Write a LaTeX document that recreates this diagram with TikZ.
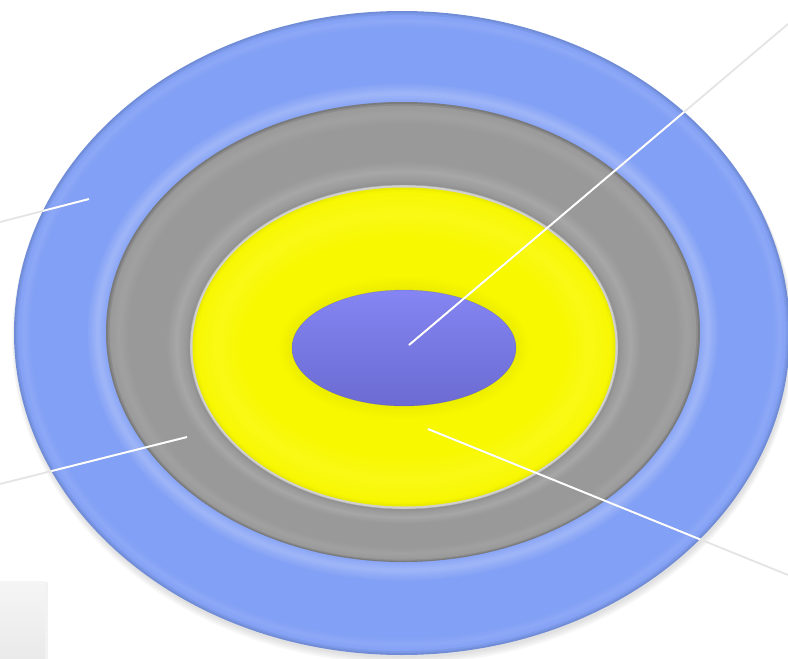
\documentclass[tikz,border=0pt]{standalone}
\definecolor{ringblue}{HTML}{82A0F5}
\definecolor{ringgray}{HTML}{999999}
\definecolor{ringyellow}{HTML}{F8F800}
\definecolor{rimgray}{HTML}{D0D0D0}
\definecolor{coretop}{HTML}{8585F3}
\definecolor{corebot}{HTML}{6B6BD2}
\definecolor{leader}{HTML}{E4E4E4}
\definecolor{boxtop}{HTML}{F5F5F5}
\definecolor{boxbot}{HTML}{EAEAEA}

\newcommand\tubeN{45}
\newcommand\setA[4]{\def\Acx{#1}\def\Acy{#2}\def\Arx{#3}\def\Ary{#4}}
\newcommand\setB[4]{\def\Bcx{#1}\def\Bcy{#2}\def\Brx{#3}\def\Bry{#4}}
\newcommand\drawtube[2]{%
  \foreach \i in {0,...,\tubeN}{%
    \pgfmathsetmacro\tpar{\i/\tubeN}%
    \pgfmathsetmacro\cx{\Acx+(\Bcx-\Acx)*\tpar}%
    \pgfmathsetmacro\cy{\Acy+(\Bcy-\Acy)*\tpar}%
    \pgfmathsetmacro\rx{\Arx+(\Brx-\Arx)*\tpar}%
    \pgfmathsetmacro\ry{\Ary+(\Bry-\Ary)*\tpar}%
    \pgfmathsetmacro\lum{#2}%
    \pgfmathsetmacro\pw{100-max(0,\lum)}%
    \pgfmathsetmacro\pb{100-max(0,-\lum)}%
    \colorlet{tubetmp}{#1!\pw!white}%
    \colorlet{tubetmp}{tubetmp!\pb!black}%
    \fill[tubetmp] (\cx,\cy) ellipse [x radius=\rx, y radius=\ry];
  }}

\tikzset{
  leaderout/.style={draw=leader, line width=1.8pt},
  leaderin/.style={draw=white, line width=1.7pt},
}

\begin{document}
\begin{tikzpicture}[x=1pt,y=-1pt]
\useasboundingbox (0,0) rectangle (788,659);

% soft shadow of the disc
\foreach \k in {1,2,3,4}{
  \fill[black, opacity=0.03] (403,335+\k) ellipse [x radius=387+\k, y radius=321+\k];
}

% outer blue ring
\setA{402}{333}{388}{322}
\setB{403}{332}{297}{230}
\drawtube{ringblue}{-12*max(0,1-\tpar/0.04)+8*max(0,1-abs(\tpar-0.1)/0.08)+24*max(0,1-abs(\tpar-0.9)/0.12)-10*max(0,(\tpar-0.975)/0.025)}

% gray ring
\setA{403}{332}{297}{230}
\setB{404}{347}{215}{163}
\drawtube{ringgray}{-20*max(0,1-\tpar/0.04)+8*max(0,1-abs(\tpar-0.15)/0.12)+14*max(0,1-abs(\tpar-0.84)/0.12)-6*max(0,(\tpar-0.95)/0.05)}

% light rim around the yellow ring
\fill[rimgray, draw=black!35, line width=0.4pt] (404,347) ellipse [x radius=214, y radius=162];

% yellow ring
\setA{404}{347}{211.5}{159.5}
\setB{404}{348}{112}{58}
\drawtube{ringyellow}{-5*max(0,1-\tpar/0.04)+9*max(0,1-abs(\tpar-0.25)/0.25)-5*max(0,(\tpar-0.85)/0.15)}

% core
\shade[top color=coretop, bottom color=corebot] (404,348) ellipse [x radius=112, y radius=58];
\draw[corebot!80!black, line width=0.4pt, opacity=0.4] (404,348) ellipse [x radius=112, y radius=58];

% leader lines
\coordinate (p1) at (409,345);  \coordinate (q1) at (788,24);
\coordinate (p2) at (89,199);   \coordinate (q2) at (0,222);
\coordinate (p3) at (187,437);  \coordinate (q3) at (0,484);
\coordinate (p4) at (428,429);  \coordinate (q4) at (788,575);

\draw[leaderout] (p1) -- (q1);
\draw[leaderout] (p2) -- (q2);
\draw[leaderout] (p3) -- (q3);
\draw[leaderout] (p4) -- (q4);
\begin{scope}
  \clip (402,333) ellipse [x radius=388, y radius=322];
  \draw[leaderin] (p1) -- (q1);
  \draw[leaderin] (p2) -- (q2);
  \draw[leaderin] (p3) -- (q3);
  \draw[leaderin] (p4) -- (q4);
\end{scope}

% partial box at bottom left
\fill[black, opacity=0.05] (0,582) rectangle (48,659);
\shade[top color=boxtop, bottom color=boxbot] (0,581) rectangle (45,659);
\end{tikzpicture}
\end{document}
